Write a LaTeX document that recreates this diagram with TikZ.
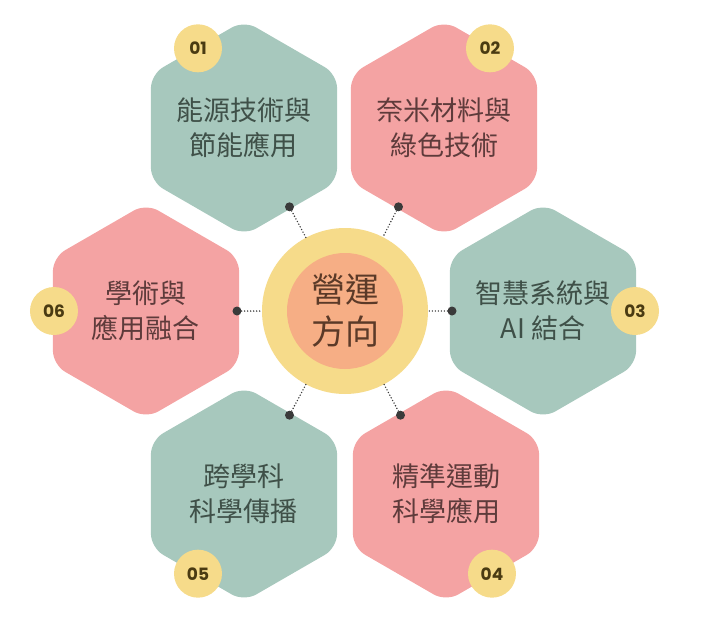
\documentclass[tikz,border=0pt]{standalone}
\usepackage{fontspec}
\setmainfont{Noto Sans CJK TC}
\newfontfamily\numfont{Poppins}
\usetikzlibrary{shapes.geometric,calc}

\definecolor{verde}{HTML}{A7C8BD}
\definecolor{rosa}{HTML}{F4A3A3}
\definecolor{amarelo}{HTML}{F6DB8A}
\definecolor{pessego}{HTML}{F6AE85}
\definecolor{textoverde}{HTML}{3F5048}
\definecolor{textorosa}{HTML}{5E3B3B}
\definecolor{marrom}{HTML}{5B3A28}
\definecolor{selotexto}{HTML}{4A3B12}
\definecolor{cinza}{HTML}{3A3A3A}

\begin{document}
\begin{tikzpicture}[x=1pt, y=1pt,
  hexa/.style={regular polygon, regular polygon sides=6, shape border rotate=30,
    minimum size=215pt, inner sep=0pt, rounded corners=14pt},
  rotulo/.style={align=center, inner sep=0pt, font=\fontsize{27}{35}\selectfont},
  selo/.style={circle, fill=amarelo, minimum size=48pt, inner sep=0pt,
    font=\numfont\bfseries\fontsize{17}{17}\selectfont, text=selotexto},
  ponto/.style={circle, fill=cinza, minimum size=9pt, inner sep=0pt},
  tracejado/.style={cinza, line width=1.6pt, line cap=round, dash pattern=on 0pt off 3pt}]
  \useasboundingbox (-345,-305) rectangle (366,311);

  % Setores: x / y / angulo / cor / cor do texto / linha 1 / linha 2
  \foreach \hx/\hy/\angulo/\cor/\tcor/\la/\lb [count=\i] in {
    -101/183/120/verde/textoverde/能源技術與/節能應用,
    99/183/60/rosa/textorosa/奈米材料與/綠色技術,
    198/0/0/verde/textoverde/智慧系統與/AI 結合,
    101/-183/-60/rosa/textorosa/精準運動/科學應用,
    -101/-183/-120/verde/textoverde/跨學科/科學傳播,
    -199/0/180/rosa/textorosa/學術與/應用融合
  } {
    \path (\hx,\hy) ++(\angulo:92) coordinate (cs\i);
    \path (\hx,\hy) ++(\angulo+180:91) coordinate (cp\i);
    \node[hexa, fill=\cor] (h\i) at (\hx,\hy) {};
    \node[rotulo, text=\tcor] (t\i) at (h\i) {\la\\\lb};
    \node[selo] (s\i) at (cs\i) {0\i};
    \node[ponto] (p\i) at (cp\i) {};
  }

  % Centro
  \node[circle, fill=amarelo, minimum size=166pt, inner sep=0pt] (anel) at (0,0) {};
  \node[circle, fill=pessego, minimum size=116pt, inner sep=0pt, align=center,
    font=\fontsize{34}{42}\selectfont, text=marrom] (nucleo) at (anel) {營運\\方向};

  % Ligacoes pontilhadas
  \foreach \i in {1,...,6}
    \draw[tracejado] (p\i) -- (anel);
\end{tikzpicture}
\end{document}
